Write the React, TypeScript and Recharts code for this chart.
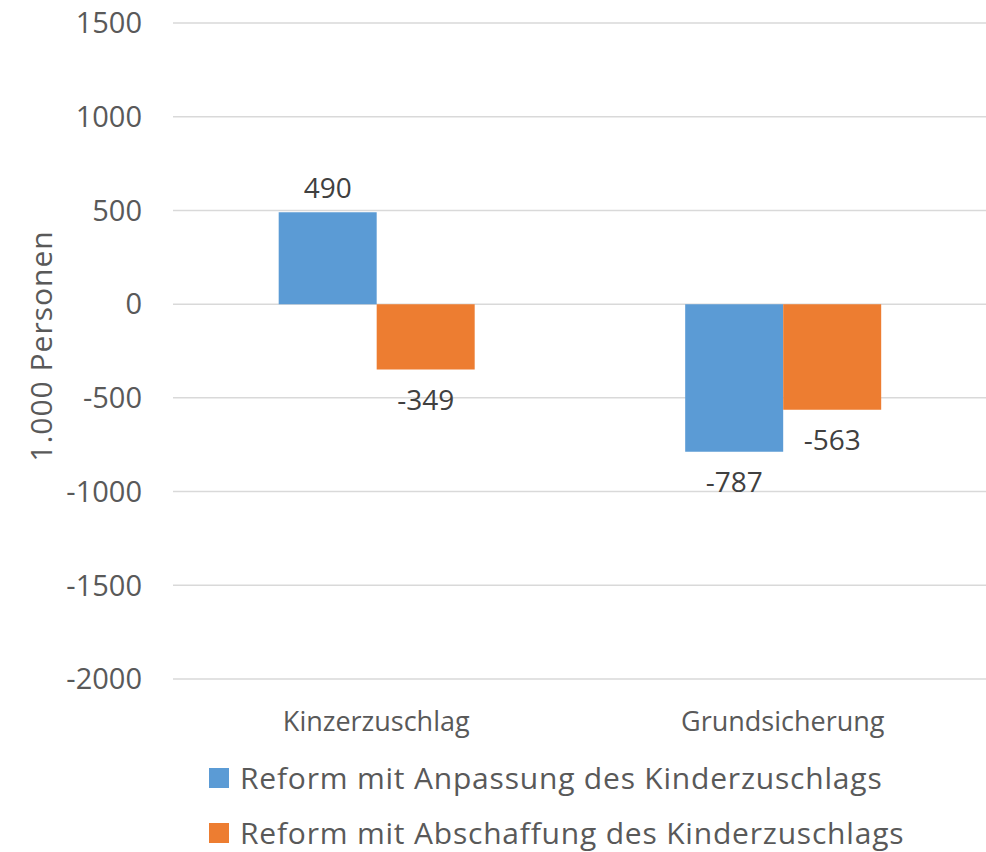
import { BarChart, Bar, XAxis, YAxis, CartesianGrid, LabelList } from 'recharts';

const categories = ['Kinzerzuschlag', 'Grundsicherung'];
const anpassung = [490, -787];
const abschaffung = [-349, -563];
const yTicks = [-2000, -1500, -1000, -500, 0, 500, 1000, 1500];

const series = [
  { key: 'anpassung', name: 'Reform mit Anpassung des Kinderzuschlags', color: '#5B9BD5' },
  { key: 'abschaffung', name: 'Reform mit Abschaffung des Kinderzuschlags', color: '#ED7D31' },
];

const data = categories.map((name, i) => ({
  name,
  anpassung: anpassung[i],
  abschaffung: abschaffung[i],
}));

const FONT = '"Open Sans", sans-serif';

const ValueLabel = (props: any) => {
  const { x, y, width, height, value } = props;
  const top = Math.min(y, y + height);
  const bottom = Math.max(y, y + height);
  const cy = value >= 0 ? top - 25 : bottom + 29;
  return (
    <text
      x={x + width / 2}
      y={cy}
      textAnchor="middle"
      dominantBaseline="central"
      fontSize={28}
      fontFamily={FONT}
      fill="#404040"
    >
      {value}
    </text>
  );
};

const AxisTitle = () => (
  <text
    x={40}
    y={346}
    transform="rotate(-90 40 346)"
    textAnchor="middle"
    dominantBaseline="central"
    fontSize={30}
    letterSpacing={1}
    fontFamily={FONT}
    fill="#595959"
  >
    1.000 Personen
  </text>
);

export default function App() {
  return (
    <div style={{ position: 'absolute', left: 0, top: 0, width: 986, height: 852, background: '#fff' }}>
      <BarChart
        width={986}
        height={852}
        data={data}
        margin={{ top: 23, right: 0, left: 0, bottom: 93 }}
        barCategoryGap="26%"
        barGap={0}
      >
        <CartesianGrid vertical={false} stroke="#d9d9d9" strokeWidth={1.5} />
        <XAxis
          dataKey="name"
          height={80}
          axisLine={false}
          tickLine={false}
          tickSize={0}
          tickMargin={33}
          tick={{ fontSize: 27, fontFamily: FONT, fill: '#595959' }}
        />
        <YAxis
          width={173}
          domain={[-2000, 1500]}
          ticks={yTicks}
          axisLine={false}
          tickLine={false}
          tickSize={0}
          tickMargin={31}
          tick={{ fontSize: 29, fontFamily: FONT, fill: '#595959' }}
          label={<AxisTitle />}
        />
        {series.map((s) => (
          <Bar key={s.key} dataKey={s.key} name={s.name} fill={s.color} isAnimationActive={false}>
            <LabelList dataKey={s.key} content={<ValueLabel />} />
          </Bar>
        ))}
      </BarChart>
      <div style={{ position: 'absolute', left: 209, top: 750, fontFamily: FONT, fontSize: 30, letterSpacing: 0.8, color: '#595959' }}>
        {series.map((s) => (
          <div key={s.key} style={{ display: 'flex', alignItems: 'center', height: 55, whiteSpace: 'nowrap' }}>
            <span style={{ width: 20, height: 20, background: s.color, display: 'inline-block', marginRight: 11, flexShrink: 0 }} />
            <span>{s.name}</span>
          </div>
        ))}
      </div>
    </div>
  );
}
